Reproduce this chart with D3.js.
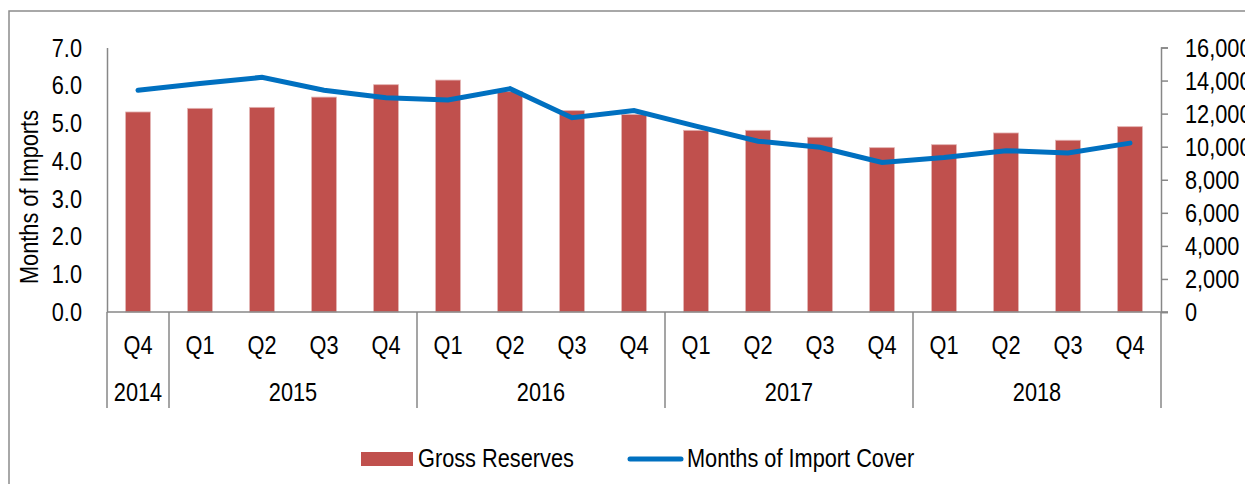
<!DOCTYPE html>
<html>
<head>
<meta charset="utf-8">
<script src="https://cdn.jsdelivr.net/npm/d3@7"></script>
<style>
  body { margin: 0; background: #fff; }
  svg text { font-family: "Liberation Sans Narrow", "Arial Narrow", "Liberation Sans", Arial, sans-serif; fill: #000; }
</style>
</head>
<body>
<svg id="chart" width="1245" height="484"></svg>
<script>
// quarters Q4 2014 .. Q4 2018
var quarters = ["Q4", "Q1", "Q2", "Q3", "Q4", "Q1", "Q2", "Q3", "Q4", "Q1", "Q2", "Q3", "Q4", "Q1", "Q2", "Q3", "Q4"];
var years = ["2014", "2015", "2016", "2017", "2018"];
var yearSpans = [1, 4, 4, 4, 4];
// gross reserves, US$ million (right axis)
var grossReserves = [12100, 12320, 12380, 13000, 13750, 14030, 13330, 12180, 11950, 10990, 10990, 10570, 9940, 10120, 10830, 10390, 11210];
// months of import cover (left axis)
var importCover = [5.87, 6.05, 6.21, 5.87, 5.67, 5.61, 5.91, 5.14, 5.33, 4.92, 4.52, 4.36, 3.96, 4.09, 4.27, 4.21, 4.47];
var leftTicks = [0, 1, 2, 3, 4, 5, 6, 7];
var rightTicks = [0, 2000, 4000, 6000, 8000, 10000, 12000, 14000, 16000];

var svg = d3.select("#chart");
var gray = "#878787";
var fs = "25px";
var narrow = 0.87;  // no Arial Narrow here, so squeeze the letters

var plotLeft = 107, plotRight = 1161, plotTop = 47.5, base = 312;

// outer frame (runs off the picture on right and bottom)
svg.append("path")
  .attr("d", "M9,490 L9,11 L1250,11")
  .attr("fill", "none")
  .attr("stroke", "#8c8c8c")
  .attr("stroke-width", 1.5);

var x = d3.scaleBand()
  .domain(d3.range(quarters.length))
  .range([plotLeft, plotRight])
  .paddingInner(0.6)
  .paddingOuter(0.3);

var yL = d3.scaleLinear().domain([0, 7]).range([base, plotTop]);
var yR = d3.scaleLinear().domain([0, 16000]).range([base, plotTop]);

// bars
svg.append("g").selectAll("rect")
  .data(grossReserves)
  .enter()
  .append("rect")
  .attr("x", function(d, i) { return x(i); })
  .attr("width", x.bandwidth())
  .attr("y", function(d) { return yR(d); })
  .attr("height", function(d) { return base - yR(d); })
  .attr("fill", "#C0504D")
  .attr("stroke", "#e3b3b2")
  .attr("stroke-width", 0.8);

// left axis
var gL = svg.append("g")
  .attr("transform", "translate(" + plotLeft + ",0)")
  .call(d3.axisLeft(yL).tickValues(leftTicks).tickSize(0).tickPadding(25).tickFormat(d3.format(".1f")));
gL.select(".domain").attr("stroke", gray).attr("stroke-width", 1.5);
gL.selectAll("text").style("font-size", fs).attr("dy", "0.34em");

// right axis
var gR = svg.append("g")
  .attr("transform", "translate(" + plotRight + ",0)")
  .call(d3.axisRight(yR).tickValues(rightTicks).tickSize(7).tickSizeOuter(7).tickPadding(17).tickFormat(d3.format(",")));
gR.select(".domain").attr("stroke", gray).attr("stroke-width", 1.5);
gR.selectAll(".tick line").attr("stroke", gray).attr("stroke-width", 1.5);
gR.selectAll("text").style("font-size", fs).attr("dy", "0.34em");

// category axis
svg.append("line")
  .attr("x1", plotLeft).attr("x2", plotRight + 7)
  .attr("y1", base).attr("y2", base)
  .attr("stroke", gray).attr("stroke-width", 1.5);

var step = x.step();
svg.append("g").selectAll("text")
  .data(quarters)
  .enter()
  .append("text")
  .attr("x", function(d, i) { return x(i) + x.bandwidth() / 2; })
  .attr("y", 354)
  .attr("text-anchor", "middle")
  .style("font-size", fs)
  .text(function(d) { return d; });

var bounds = [0];
yearSpans.forEach(function(s) { bounds.push(bounds[bounds.length - 1] + s); });

svg.append("g").selectAll("line")
  .data(bounds)
  .enter()
  .append("line")
  .attr("x1", function(d) { return plotLeft + d * step; })
  .attr("x2", function(d) { return plotLeft + d * step; })
  .attr("y1", base).attr("y2", 408)
  .attr("stroke", gray).attr("stroke-width", 1.5);

svg.append("g").selectAll("text")
  .data(years)
  .enter()
  .append("text")
  .attr("x", function(d, i) { return plotLeft + (bounds[i] + bounds[i + 1]) / 2 * step; })
  .attr("y", 401)
  .attr("text-anchor", "middle")
  .style("font-size", fs)
  .text(function(d) { return d; });

// line
var line = d3.line()
  .x(function(d, i) { return x(i) + x.bandwidth() / 2; })
  .y(function(d) { return yL(d); });

svg.append("path")
  .datum(importCover)
  .attr("d", line)
  .attr("fill", "none")
  .attr("stroke", "#0070C0")
  .attr("stroke-width", 5)
  .attr("stroke-linecap", "round");

// legend
var lg = svg.append("g");
lg.append("rect")
  .attr("x", 361).attr("y", 452)
  .attr("width", 52).attr("height", 14)
  .attr("fill", "#C0504D");
lg.append("text")
  .attr("x", 418).attr("y", 467)
  .style("font-size", fs)
  .text("Gross Reserves");
lg.append("line")
  .attr("x1", 630).attr("x2", 681)
  .attr("y1", 459).attr("y2", 459)
  .attr("stroke", "#0070C0")
  .attr("stroke-width", 5)
  .attr("stroke-linecap", "round");
lg.append("text")
  .attr("x", 687).attr("y", 467)
  .style("font-size", fs)
  .text("Months of Import Cover");

// squeeze each label around its own anchor point
svg.selectAll("text").each(function() {
  var ax = +(this.getAttribute("x") || 0);
  d3.select(this).attr("transform",
    "translate(" + ax + ",0) scale(" + narrow + ",1) translate(" + (-ax) + ",0)");
});

// y title (rotated, squeezed along its length)
svg.append("text")
  .attr("transform", "translate(38,197) rotate(-90) scale(" + narrow + ",1)")
  .attr("text-anchor", "middle")
  .style("font-size", fs)
  .text("Months of Imports");
</script>
</body>
</html>
